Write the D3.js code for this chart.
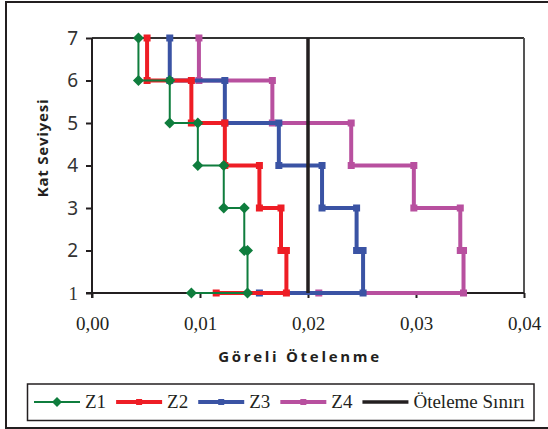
<!DOCTYPE html>
<html>
<head>
<meta charset="utf-8">
<script src="https://cdn.jsdelivr.net/npm/d3@7"></script>
<style>
html,body{margin:0;padding:0;background:#fff;}
svg{display:block;}
</style>
</head>
<body>
<svg id="chart" width="548" height="429"></svg>
<script>
// ---- data ----
const yLevels = [1,1,2,2,3,3,4,4,5,5,6,6,7];
const z1X = [0.0092,0.0144,0.0144,0.0141,0.0141,0.0122,0.0122,0.0098,0.0098,0.0072,0.0072,0.0043,0.0043];
const z2X = [0.0115,0.0180,0.0180,0.0175,0.0175,0.0155,0.0155,0.0123,0.0123,0.0092,0.0092,0.0051,0.0051];
const z3X = [0.0155,0.0251,0.0251,0.0245,0.0245,0.0213,0.0213,0.0173,0.0173,0.0123,0.0123,0.0072,0.0072];
const z4X = [0.0210,0.0344,0.0344,0.0341,0.0341,0.0298,0.0298,0.0240,0.0240,0.0167,0.0167,0.0099,0.0099];
const limitX = [0.02, 0.02];
const limitY = [1, 7];
const seriesNames = ["Z1","Z2","Z3","Z4","Öteleme Sınırı"];
const xTicks = [0, 0.01, 0.02, 0.03, 0.04];
const yTicks = [1,2,3,4,5,6,7];
const xTitle = "Göreli Ötelenme";
const yTitle = "Kat Seviyesi";

// ---- setup ----
const svg = d3.select("#chart");
const x = d3.scaleLinear().domain([0, 0.04]).range([92, 524]);
const y = d3.scaleLinear().domain([1, 7]).range([293, 38]);
const dark = "#231f20";

// outer border
svg.append("rect").attr("x",6).attr("y",2).attr("width",600).attr("height",426)
  .attr("fill","#fff").attr("stroke",dark).attr("stroke-width",2);

// plot frame (top, right)
svg.append("line").attr("x1",x(0)).attr("x2",x(0.04)).attr("y1",y(7)).attr("y2",y(7))
  .attr("stroke","#333").attr("stroke-width",2);
svg.append("line").attr("x1",x(0.04)).attr("x2",x(0.04)).attr("y1",y(7)).attr("y2",y(1))
  .attr("stroke","#555").attr("stroke-width",2);

// axes
const xAxis = d3.axisBottom(x).tickValues(xTicks).tickSize(5).tickPadding(19)
  .tickFormat(d => d3.format(".2f")(d).replace(".", ","));
const gx = svg.append("g").attr("transform",`translate(0,${y(1)})`).call(xAxis);
gx.attr("font-family","'Liberation Serif', 'Times New Roman', serif");
gx.select(".domain").attr("stroke",dark).attr("stroke-width",2).attr("d",`M${x(0)-6},0H${x(0.04)}`);
gx.selectAll(".tick line").attr("stroke",dark).attr("stroke-width",2);
gx.selectAll(".tick text").attr("font-family","'Liberation Serif', 'Times New Roman', serif")
  .attr("font-size",19).attr("fill",dark);

const yAxis = d3.axisLeft(y).tickValues(yTicks).tickSize(6).tickPadding(8).tickFormat(d3.format("d"));
const gy = svg.append("g").attr("transform",`translate(${x(0)},0)`).call(yAxis);
gy.select(".domain").attr("stroke",dark).attr("stroke-width",2).attr("d",`M0,${y(7)}V${y(1)+5}`);
gy.selectAll(".tick line").attr("stroke",dark).attr("stroke-width",2);
gy.selectAll(".tick text").attr("font-family", d => d === 1 ? "'Liberation Serif', serif" : "'Noto Sans', sans-serif")
  .attr("font-size",19).attr("fill","#333");

// axis titles
svg.append("text").attr("x",300).attr("y",362).attr("text-anchor","middle")
  .attr("font-family","'Open Sans', 'Noto Sans', sans-serif").attr("font-weight","bold")
  .attr("font-size",15).attr("letter-spacing",2.7).attr("fill",dark).text(xTitle);
svg.append("text").attr("transform","translate(48,148) rotate(-90)").attr("text-anchor","middle")
  .attr("font-family","'Open Sans', 'Noto Sans', sans-serif").attr("font-weight","bold")
  .attr("font-size",15).attr("letter-spacing",0.8).attr("fill",dark).text(yTitle);

// series
const series = [
  {name:"Z4", xs:z4X, color:"#b8509f", width:4, marker:"square", size:7},
  {name:"Z3", xs:z3X, color:"#3a53a4", width:4, marker:"square", size:7},
  {name:"Z2", xs:z2X, color:"#ee1d25", width:4, marker:"square", size:7},
  {name:"Z1", xs:z1X, color:"#0f7d3d", width:2, marker:"diamond", size:11},
];
const line = d3.line().x(d => x(d[0])).y(d => y(d[1]));

function drawMarker(g, cx, cy, s) {
  if (s.marker === "diamond") {
    const h = s.size/2;
    g.append("path").attr("d",`M${cx},${cy-h}L${cx+h},${cy}L${cx},${cy+h}L${cx-h},${cy}Z`).attr("fill",s.color);
  } else {
    g.append("rect").attr("x",cx-s.size/2).attr("y",cy-s.size/2).attr("width",s.size).attr("height",s.size).attr("fill",s.color);
  }
}

series.forEach(s => {
  const pts = s.xs.map((v,i) => [v, yLevels[i]]);
  const g = svg.append("g");
  g.append("path").attr("d", line(pts)).attr("fill","none").attr("stroke",s.color)
    .attr("stroke-width",s.width).attr("stroke-linejoin","miter");
  pts.forEach(p => drawMarker(g, x(p[0]), y(p[1]), s));
});

// limit line
svg.append("path").attr("d", line(limitX.map((v,i)=>[v, limitY[i]]))).attr("stroke",dark)
  .attr("stroke-width",3.5).attr("fill","none");

// legend
svg.append("rect").attr("x",27.5).attr("y",384).attr("width",506.5).attr("height",36.5)
  .attr("fill","#fff").attr("stroke",dark).attr("stroke-width",1.5);
const legendStyles = [
  {color:"#0f7d3d", width:2, marker:"diamond", size:10},
  {color:"#ee1d25", width:4, marker:"square", size:6},
  {color:"#3a53a4", width:4, marker:"square", size:6},
  {color:"#b8509f", width:4, marker:"square", size:6},
  {color:dark, width:3.5, marker:null, size:0},
];
let lx = 34;
const ly = 402;
seriesNames.forEach((name, i) => {
  const st = legendStyles[i];
  const g = svg.append("g");
  g.append("line").attr("x1",lx).attr("x2",lx+46).attr("y1",ly).attr("y2",ly)
    .attr("stroke",st.color).attr("stroke-width",st.width);
  if (st.marker) drawMarker(g, lx+23, ly, st);
  const t = g.append("text").attr("x",lx+51).attr("y",ly).attr("dy","0.34em")
    .attr("font-family","'Liberation Serif', 'Times New Roman', serif").attr("font-size",19)
    .attr("fill",dark).text(name);
  lx = lx + 51 + t.node().getComputedTextLength() + 10;
});
</script>
</body>
</html>
